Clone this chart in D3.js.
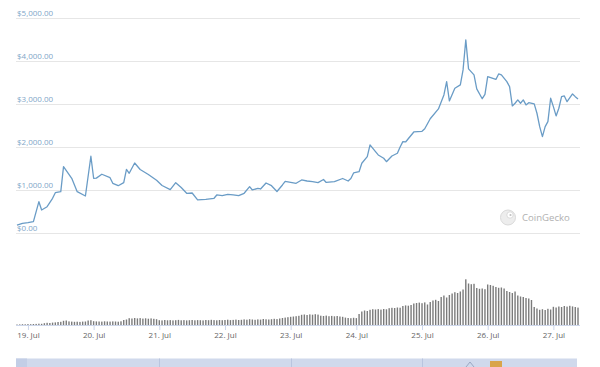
<!DOCTYPE html>
<html>
<head>
<meta charset="utf-8">
<script src="https://cdn.jsdelivr.net/npm/d3@7"></script>
<style>
  html, body { margin: 0; padding: 0; background: #fff; }
  svg { display: block; font-family: "Open Sans", sans-serif; }
</style>
</head>
<body>
<svg id="chart" width="600" height="367"></svg>
<script>
// ---- DATA (hours are offsets from 19 Jul 00:00) ----
const baseDate = new Date(2017, 6, 19, 0, 0, 0);
const priceHours = [-4,-2,0,2,4,5,7,9,10,12,13,16,18,21,23,24,25,27,30,31,33,35,36,37,39,41,44,47,49,52,54,56,58,60,62,65,68,69,71,73,75,77,79,81,82,84,85,87,89,91,93,94,96,98,100,102,104,106,108,109,112,115,117,118,119,121,122,124,125,127,128,130,131,133,135,136,137,138,141,144,145,147,150,152,153,154,156,158,159,160,161,163,164,166,167,168,171,172,173,175,176,177,178,179,180,181,182,183,185,186,187,188,189,190,191,192,193,194,195,196,197,199,200,201];
const priceValues = [190,232,246,269,733,541,617,812,942,965,1545,1276,965,865,1787,1276,1280,1369,1290,1160,1104,1174,1480,1392,1631,1480,1364,1230,1109,1012,1174,1063,928,935,773,789,812,889,872,905,889,872,928,1081,1005,1044,1028,1167,1104,970,1121,1202,1183,1160,1237,1213,1197,1174,1248,1179,1197,1271,1213,1271,1399,1429,1624,1777,2049,1893,1817,1740,1661,1793,1856,2002,2125,2118,2350,2366,2424,2657,2884,3209,3517,3070,3364,3441,3789,4485,3812,3673,3348,3121,3220,3633,3568,3696,3673,3517,3401,2954,3016,3093,3016,3093,2977,3030,3000,2784,2473,2241,2473,2589,3132,2937,2722,2900,3169,3186,3053,3232,3169,3116];

const volumeStartHour = -4; // one bar per hour
const volumeValues = [
  0.5,0.6,0.8,0.7,0.9,0.8,1.0,1.1,1.3,1.2,
  1.8,2.2,2.0,2.4,2.6,
  3.0,3.2,
  4.2,4.5,
  3.6,3.4,3.2,3.3,3.1,3.4,3.5,
  4.5,4.8,
  3.8,3.6,3.5,3.4,3.7,3.5,3.4,3.6,3.5,3.3,3.7,
  5.0,5.5,
  6.8,6.5,7.0,6.6,6.9,6.4,6.7,6.3,6.6,6.2,5.8,
  4.8,4.6,5.0,4.7,4.9,4.6,4.8,5.1,4.7,4.9,4.6,4.8,5.0,4.7,4.9,4.8,4.6,5.0,4.8,5.2,4.9,4.7,5.0,4.8,
  5.0,5.3,4.9,5.1,5.4,5.0,5.2,5.6,5.3,5.8,5.5,5.2,5.6,5.4,6.0,5.7,5.5,5.8,6.2,5.9,
  6.5,7.0,7.4,7.8,8.2,8.5,8.8,9.2,
  10.2,10.5,10.0,10.6,10.3,10.8,10.4,
  9.3,9.0,9.4,8.8,9.1,8.7,9.0,8.5,8.2,
  7.4,7.0,6.8,7.2,6.9,
  11.0,
  13.5,14.5,14.0,
  15.2,15.8,15.5,15.9,15.4,16.0,15.7,
  16.8,17.2,17.0,17.5,17.3,
  19.0,19.6,19.3,20.0,
  21.5,22.0,22.4,21.8,22.6,20.5,23.0,
  24.5,25.2,24.0,
  28.0,29.5,27.5,30.0,
  31.5,32.8,32.0,33.5,
  35.5,
  45.7,
  41.5,40.8,41.2,
  37.0,36.2,36.5,35.8,
  40.5,40.0,39.2,
  38.0,37.2,37.5,36.5,
  34.0,33.0,32.0,33.5,
  29.5,28.5,28.0,27.0,26.5,25.0,
  18.0,16.5,
  15.2,15.8,15.0,16.2,15.5,
  18.2,17.5,18.5,18.0,19.0,18.4,19.2,18.6,18.0,17.4
];
const priceTicks = [0, 1000, 2000, 3000, 4000, 5000];
const dayTicks = [19, 20, 21, 22, 23, 24, 25, 26, 27];

// ---- helpers ----
const hourToDate = h => new Date(baseDate.getTime() + h * 3600 * 1000);
const priceData = priceHours.map((h, i) => ({ t: hourToDate(h), v: priceValues[i] }));
const volumeData = volumeValues.map((v, i) => ({ t: hourToDate(volumeStartHour + i), v }));

const svg = d3.select("#chart");
svg.append("rect").attr("width", 600).attr("height", 367).attr("fill", "#fff");

const x = d3.scaleTime()
  .domain([hourToDate(-4), hourToDate(201)])
  .range([17, 578]);

const y = d3.scaleLinear().domain([0, 5000]).range([233.3, 17.7]);
const yv = d3.scaleLinear().domain([0, 46]).range([325, 279]);

// gridlines
const grid = svg.append("g");
grid.selectAll("line").data(priceTicks).join("line")
  .attr("x1", 16).attr("x2", 580)
  .attr("y1", d => Math.round(y(d)) + 0.5).attr("y2", d => Math.round(y(d)) + 0.5)
  .attr("stroke", "#e6e6e6").attr("stroke-width", 1);

// y labels
const fmt = d3.format("$,.2f");
svg.append("g").selectAll("text").data(priceTicks).join("text")
  .attr("x", 17).attr("y", d => y(d) - 2)
  .attr("font-size", 8).attr("fill", "#7fa6c8")
  .text(d => fmt(d));

// CoinGecko watermark
const logo = svg.append("g").attr("opacity", 0.9);
logo.append("circle").attr("cx", 508).attr("cy", 217.5).attr("r", 7.5)
  .attr("fill", "#ececec").attr("stroke", "#d6d6d6").attr("stroke-width", 1);
logo.append("circle").attr("cx", 510).attr("cy", 215).attr("r", 3.2)
  .attr("fill", "#fff").attr("stroke", "#cfcfcf").attr("stroke-width", 0.8);
logo.append("circle").attr("cx", 510.5).attr("cy", 215).attr("r", 1.1).attr("fill", "#bbb");
logo.append("text").attr("x", 522).attr("y", 221).attr("font-size", 9.6)
  .attr("fill", "#a9a9a9").text("CoinGecko");

// price line
const line = d3.line().x(d => x(d.t)).y(d => y(d.v)).curve(d3.curveLinear);
svg.append("path").datum(priceData)
  .attr("d", line).attr("fill", "none")
  .attr("stroke", "#6a9cc6").attr("stroke-width", 1.3)
  .attr("stroke-linejoin", "round");

// volume bars
svg.append("g").selectAll("rect").data(volumeData).join("rect")
  .attr("x", d => x(d.t) - 0.7)
  .attr("width", 1.4)
  .attr("y", d => yv(d.v))
  .attr("height", d => 325 - yv(d.v))
  .attr("fill", "#7b7b7b");

// x axis
const xAxis = d3.axisBottom(x)
  .tickValues(dayTicks.map(d => new Date(2017, 6, d)))
  .tickFormat(d3.timeFormat("%-d. %b"))
  .tickSize(5).tickSizeOuter(0);
const gx = svg.append("g").attr("transform", "translate(0,325)").call(xAxis);
gx.select(".domain").attr("stroke", "#ccd6eb").attr("d", "M16,0.5H580");
gx.selectAll(".tick line").attr("stroke", "#ccd6eb");
gx.selectAll(".tick text").attr("font-size", 8).attr("fill", "#666")
  .attr("font-family", "Open Sans, sans-serif").attr("dy", "0.6em");

// navigator strip
const nav = svg.append("g");
nav.append("rect").attr("x", 16).attr("y", 358.5).attr("width", 561).attr("height", 9)
  .attr("fill", "#d0d9ec");
nav.append("rect").attr("x", 16).attr("y", 358.5).attr("width", 11).attr("height", 9)
  .attr("fill", "#c3cee6");
nav.selectAll("line.g").data([21, 23, 25]).join("line")
  .attr("x1", d => Math.round(x(new Date(2017, 6, d))) + 0.5)
  .attr("x2", d => Math.round(x(new Date(2017, 6, d))) + 0.5)
  .attr("y1", 358.5).attr("y2", 367)
  .attr("stroke", "#b9c5df");
nav.append("path").attr("d", "M466,367 L470,362 L474,367")
  .attr("fill", "none").attr("stroke", "#9aa7c2").attr("stroke-width", 1);
nav.append("rect").attr("x", 490).attr("y", 361).attr("width", 12).attr("height", 6)
  .attr("fill", "#d9a44a");
</script>
</body>
</html>
